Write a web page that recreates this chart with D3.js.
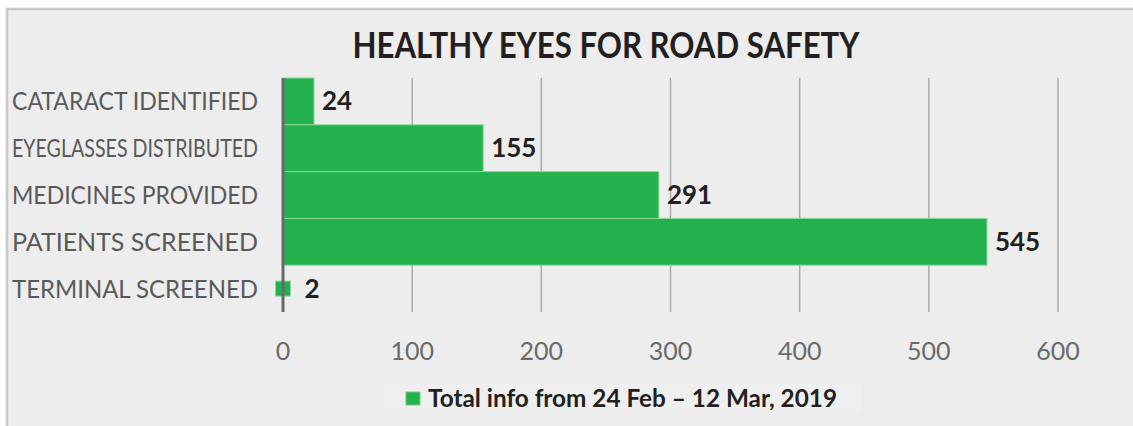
<!DOCTYPE html>
<html>
<head>
<meta charset="utf-8">
<script src="https://cdn.jsdelivr.net/npm/d3@7"></script>
<style>
  body { margin: 0; background: #fff; }
  text { font-family: Lato, "Open Sans", sans-serif; }
</style>
</head>
<body>
<div id="chart"></div>
<script>
// data
var categories = ["CATARACT IDENTIFIED", "EYEGLASSES DISTRIBUTED", "MEDICINES PROVIDED", "PATIENTS SCREENED", "TERMINAL SCREENED"];
var values = [24, 155, 291, 545, 2];
var ticks = [0, 100, 200, 300, 400, 500, 600];
var title = "HEALTHY EYES FOR ROAD SAFETY";
var seriesName = "Total info from 24 Feb \u2013 12 Mar, 2019";

var width = 1133;
var height = 426;
var green = "#22b14c";

var svg = d3.select('#chart')
    .append('svg')
    .attr('width', width)
    .attr('height', height);

// panel
svg.append('rect')
    .attr('x', 7).attr('y', 9)
    .attr('width', width).attr('height', height)
    .attr('fill', '#ededed')
    .attr('stroke', '#c8c8c8')
    .attr('stroke-width', 2.5);

var x = d3.scaleLinear()
    .domain([0, 600])
    .range([283, 1058]);
var y = d3.scaleBand()
    .domain(categories)
    .range([78, 312])
    .padding(0);

var dots = categories.map(function (c, i) { return { cat: c, v: values[i] }; });

// title
var t = svg.append('text')
    .attr('x', 606).attr('y', 58)
    .attr('text-anchor', 'middle')
    .attr('font-size', 37)
    .attr('font-weight', 'bold')
    .attr('fill', '#231f20')
    .text(title);
fitText(t, 507);

// gridlines
svg.append('g')
    .selectAll('line')
    .data(ticks.slice(1))
    .enter()
    .append('line')
    .attr('x1', d => x(d)).attr('x2', d => x(d))
    .attr('y1', y.range()[0]).attr('y2', y.range()[1])
    .attr('stroke', '#a9a9a9')
    .attr('stroke-width', 1.5);

// bars
var minBar = 15;
var barg = svg.append('g');
barg.selectAll('rect')
    .data(dots)
    .enter()
    .append('rect')
    .attr('x', d => (x(d.v) - x(0) < minBar) ? x(0) - minBar / 2 : x(0))
    .attr('y', d => (x(d.v) - x(0) < minBar) ? y(d.cat) + y.bandwidth() / 2 - minBar / 2 : y(d.cat))
    .attr('width', d => (x(d.v) - x(0) < minBar) ? minBar : x(d.v) - x(0))
    .attr('height', d => (x(d.v) - x(0) < minBar) ? minBar : y.bandwidth())
    .attr('fill', green)
    .attr('stroke', '#8ad89c')
    .attr('stroke-width', 1);

// axis line at zero
svg.append('line')
    .attr('x1', x(0)).attr('x2', x(0))
    .attr('y1', y.range()[0]).attr('y2', y.range()[1])
    .attr('stroke', '#686868')
    .attr('stroke-width', 3);

// value labels
barg.selectAll('text')
    .data(dots)
    .enter()
    .append('text')
    .attr('x', d => (x(d.v) - x(0) < minBar) ? x(0) + minBar / 2 + 14 : x(d.v) + 8)
    .attr('y', d => y(d.cat) + y.bandwidth() / 2 + 9)
    .attr('font-size', 26)
    .attr('font-weight', 'bold')
    .attr('fill', '#231f20')
    .text(d => d.v);

// category labels
svg.append('g')
    .selectAll('text')
    .data(categories)
    .enter()
    .append('text')
    .attr('x', 258)
    .attr('y', d => y(d) + y.bandwidth() / 2 + 9)
    .attr('text-anchor', 'end')
    .attr('font-size', 25)
    .attr('fill', '#595959')
    .text(d => d)
    .each(function () { fitText(d3.select(this), 246); });

// tick labels
svg.append('g')
    .selectAll('text')
    .data(ticks)
    .enter()
    .append('text')
    .attr('x', d => x(d))
    .attr('y', 360)
    .attr('text-anchor', 'middle')
    .attr('font-size', 25)
    .attr('fill', '#6a6a6a')
    .text(d => d);

// legend
svg.append('rect')
    .attr('x', 384).attr('y', 382)
    .attr('width', 478).attr('height', 31)
    .attr('fill', '#efefef');
svg.append('rect')
    .attr('x', 406).attr('y', 392)
    .attr('width', 14).attr('height', 13)
    .attr('fill', green)
    .attr('stroke', '#6fcf86')
    .attr('stroke-width', 1);
var lt = svg.append('text')
    .attr('x', 428).attr('y', 407)
    .attr('font-size', 24.5)
    .attr('font-weight', 'bold')
    .attr('fill', '#231f20')
    .text(seriesName);
fitText(lt, 409);

function fitText(sel, maxW) {
    var w = sel.node().getComputedTextLength();
    if (w > maxW) {
        sel.attr('textLength', maxW).attr('lengthAdjust', 'spacingAndGlyphs');
    }
}
</script>
</body>
</html>
